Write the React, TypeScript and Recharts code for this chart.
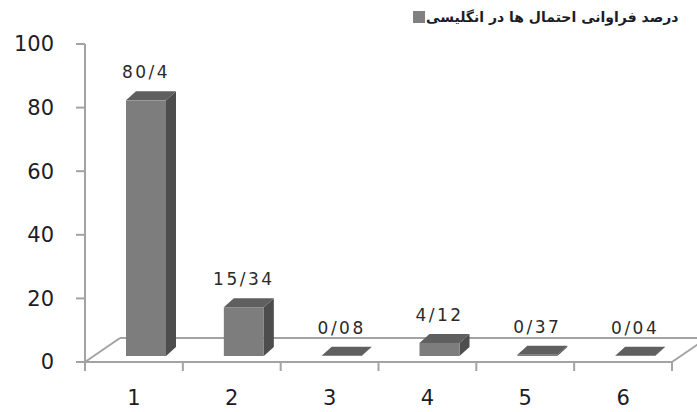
import React from 'react';
import { BarChart, Bar, XAxis, YAxis, LabelList, Customized } from 'recharts';

const categories = ['1', '2', '3', '4', '5', '6'];
const values = [80.4, 15.34, 0.08, 4.12, 0.37, 0.04];
const yTicks = [0, 20, 40, 60, 80, 100];
const seriesName = 'درصد فراوانی احتمال ها در انگلیسی';

const data = categories.map((c, i) => ({ cat: c, value: values[i] }));

const W = 697;
const H = 412;
const MARGIN = { top: 44, right: 25, bottom: 20, left: 0 };
const Y_AXIS_W = 85;
const X_AXIS_H = 30;
const TICK = 9;

const PLOT_LEFT = MARGIN.left + Y_AXIS_W;
const PLOT_RIGHT = W - MARGIN.right;
const BASE = H - MARGIN.bottom - X_AXIS_H;
const BAND = (PLOT_RIGHT - PLOT_LEFT) / categories.length;

// 3d look: bars stand a bit behind the front edge of the floor
const SHIFT_X = 12;
const SHIFT_Y = -6;
const DEPTH_X = 10;
const DEPTH_Y = -9;
const FLOOR_DX = 35;
const FLOOR_DY = -24;

const LINE = '#a3a3a3';
const TEXT = '#1c1c28';

// persian style decimal separator
const fmt = (v: number) => String(v).replace('.', '/');

function Floor() {
  return (
    <g>
      <line x1={PLOT_LEFT} y1={BASE} x2={PLOT_LEFT + FLOOR_DX} y2={BASE + FLOOR_DY} stroke={LINE} strokeWidth={2} />
      <line x1={PLOT_LEFT + FLOOR_DX} y1={BASE + FLOOR_DY} x2={PLOT_RIGHT + FLOOR_DX} y2={BASE + FLOOR_DY} stroke={LINE} strokeWidth={2} />
      <line x1={PLOT_RIGHT} y1={BASE} x2={PLOT_RIGHT + FLOOR_DX} y2={BASE + FLOOR_DY} stroke={LINE} strokeWidth={2} />
    </g>
  );
}

function Box(props: any) {
  const { x, y, width, height } = props;
  const fx = x + SHIFT_X;
  const fy = y + SHIFT_Y;
  const h = Math.max(height, 0);
  return (
    <g>
      <polygon
        points={`${fx + width},${fy} ${fx + width + DEPTH_X},${fy + DEPTH_Y} ${fx + width + DEPTH_X},${fy + h + DEPTH_Y} ${fx + width},${fy + h}`}
        fill="#4d4d4d"
      />
      <polygon
        points={`${fx},${fy} ${fx + DEPTH_X},${fy + DEPTH_Y} ${fx + width + DEPTH_X},${fy + DEPTH_Y} ${fx + width},${fy}`}
        fill="#5f5f5f"
      />
      <rect x={fx} y={fy} width={width} height={h} fill="#7d7d7d" />
    </g>
  );
}

function BarLabel(props: any) {
  const { x, y, width, value } = props;
  return (
    <text
      x={x + width / 2 + SHIFT_X}
      y={y + SHIFT_Y - 28}
      textAnchor="middle"
      dominantBaseline="central"
      fontSize={17}
      letterSpacing={2.5}
      fill="#2a2a2a"
      fontFamily="DejaVu Sans"
    >
      {fmt(value)}
    </text>
  );
}

// category label + tick marks on the category boundaries (excel style)
function XTick(props: any) {
  const { x, y, payload, index } = props;
  const right = x + BAND / 2;
  const left = x - BAND / 2;
  return (
    <g>
      {index === 0 && <line x1={left} y1={BASE} x2={left} y2={BASE + TICK} stroke={LINE} strokeWidth={2} />}
      <line x1={right} y1={BASE} x2={right} y2={BASE + TICK} stroke={LINE} strokeWidth={2} />
      <text x={x} y={y} dy="0.71em" textAnchor="middle" fontSize={21} fill={TEXT} fontFamily="DejaVu Sans">
        {payload.value}
      </text>
    </g>
  );
}

function YTick(props: any) {
  const { y, payload } = props;
  return (
    <g>
      <line x1={PLOT_LEFT - TICK} y1={y} x2={PLOT_LEFT} y2={y} stroke={LINE} strokeWidth={2} />
      <text x={PLOT_LEFT - TICK - 22} y={y} dy="0.355em" textAnchor="end" fontSize={21} fill={TEXT} fontFamily="DejaVu Sans">
        {payload.value}
      </text>
    </g>
  );
}

export default function App() {
  return (
    <div style={{ position: 'absolute', left: 0, top: 0, width: W, height: H, background: '#fff' }}>
      <BarChart width={W} height={H} data={data} margin={MARGIN}>
        <Customized component={<Floor />} />
        <XAxis
          dataKey="cat"
          height={X_AXIS_H}
          tickLine={false}
          tickSize={TICK}
          tickMargin={19}
          axisLine={{ stroke: LINE, strokeWidth: 2 }}
          tick={<XTick />}
        />
        <YAxis
          domain={[0, 100]}
          ticks={yTicks}
          width={Y_AXIS_W}
          tickSize={TICK}
          tickMargin={22}
          axisLine={{ stroke: LINE, strokeWidth: 2 }}
          tickLine={false}
          tick={<YTick />}
        />
        <Bar dataKey="value" barSize={40} shape={<Box />} isAnimationActive={false}>
          <LabelList dataKey="value" content={<BarLabel />} />
        </Bar>
      </BarChart>
      <div
        style={{
          position: 'absolute',
          top: 9,
          left: 413,
          display: 'flex',
          alignItems: 'center',
          direction: 'ltr',
          fontFamily: 'DejaVu Sans',
          fontSize: 14,
          fontWeight: 'bold',
          color: TEXT,
          whiteSpace: 'nowrap',
        }}
      >
        <span style={{ width: 12, height: 12, background: '#808080', display: 'inline-block', marginRight: 1 }} />
        <span style={{ direction: 'rtl' }}>{seriesName}</span>
      </div>
    </div>
  );
}
